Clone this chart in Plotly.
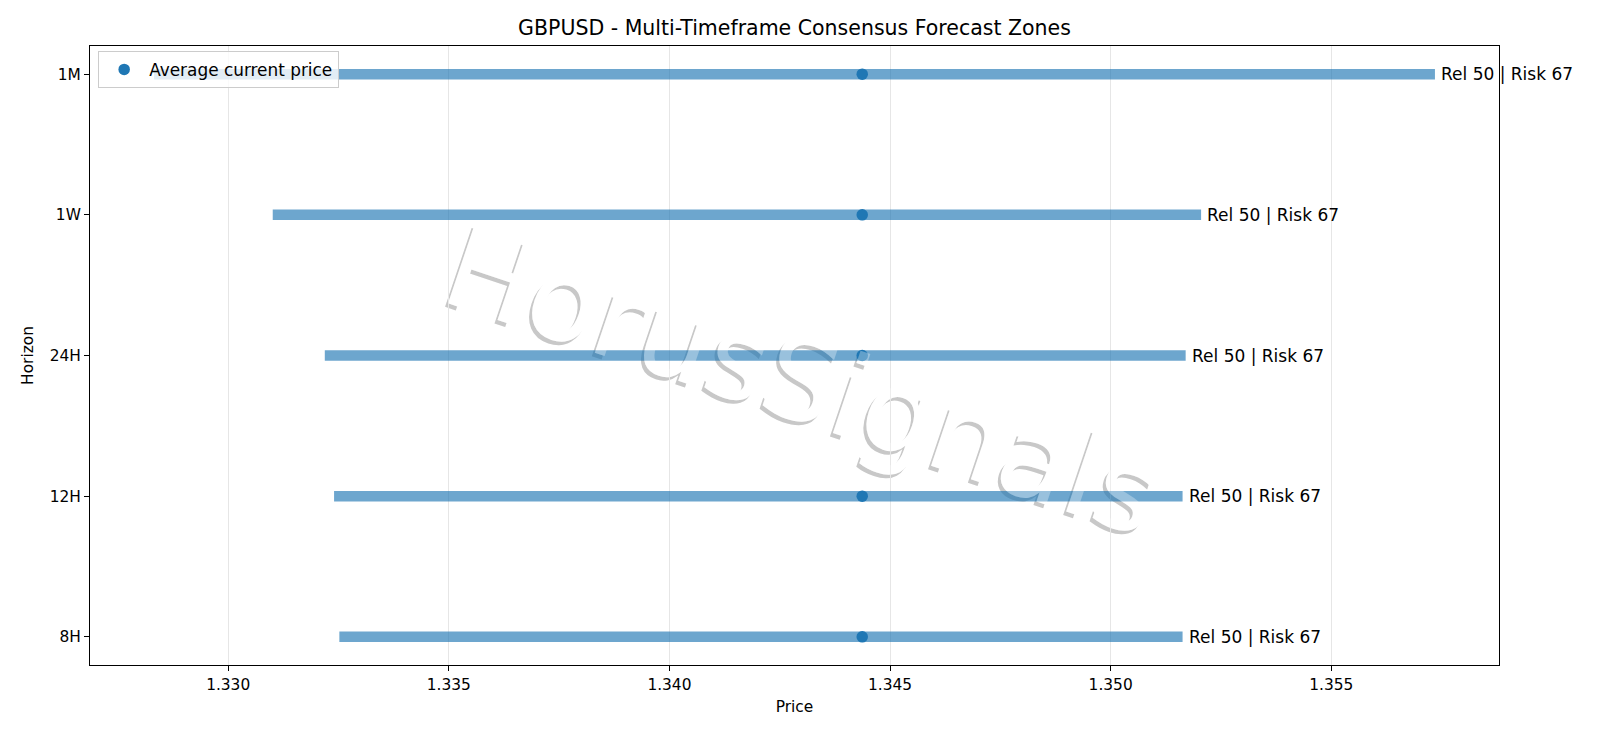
import plotly.graph_objects as go

# ---- data ----
horizons = ["8H", "12H", "24H", "1W", "1M"]
zone_low = [1.33252, 1.33240, 1.33219, 1.33101, 1.32832]
zone_high = [1.35163, 1.35163, 1.35170, 1.35205, 1.35735]
current_price = [1.34437, 1.34437, 1.34437, 1.34437, 1.34437]
reliability = [50, 50, 50, 50, 50]
risk = [67, 67, 67, 67, 67]
x_ticks = [1.330, 1.335, 1.340, 1.345, 1.350, 1.355]

title_text = "GBPUSD - Multi-Timeframe Consensus Forecast Zones"
x_title = "Price"
y_title = "Horizon"
legend_name = "Average current price"
watermark_text = "HorusSignals"

FONT = "DejaVu Sans"
BAR_COLOR = "rgba(31,119,180,0.65)"
DOT_COLOR = "#1f77b4"

# autoscale like matplotlib (5% margins)
lo = min(zone_low + current_price)
hi = max(zone_high + current_price)
pad = (hi - lo) * 0.05
x_range = [lo - pad, hi + pad]

fig = go.Figure()

# forecast zones
bx, by = [], []
for h, a, b in zip(horizons, zone_low, zone_high):
    bx += [a, b, None]
    by += [h, h, None]
fig.add_trace(go.Scatter(
    x=bx, y=by, mode="lines",
    line=dict(color=BAR_COLOR, width=10.5),
    showlegend=False, hoverinfo="skip",
))

# current price dots
fig.add_trace(go.Scatter(
    x=current_price, y=horizons, mode="markers",
    marker=dict(color=DOT_COLOR, size=11.5),
    name=legend_name, showlegend=True,
))

# right-hand labels
for h, b, r, k in zip(horizons, zone_high, reliability, risk):
    fig.add_annotation(
        x=b, y=h, xref="x", yref="y",
        text=f"Rel {r} | Risk {k}",
        showarrow=False, xanchor="left", yanchor="middle", xshift=4,
        font=dict(family=FONT, size=17, color="black"),
    )

# watermark (shadow + white fill below traces, light white veil above)
cx, cy = 0.5075, 0.4711
angle = 18.6
wm_size = 114
def wm_shape(dx, dy, color, layer):
    return dict(
        type="rect", xref="paper", yref="paper",
        x0=cx + dx - 0.001, x1=cx + dx + 0.001,
        y0=cy + dy - 0.001, y1=cy + dy + 0.001,
        line=dict(width=0), fillcolor="rgba(0,0,0,0)", layer=layer,
        label=dict(text=watermark_text, textangle=angle,
                   textposition="middle center",
                   font=dict(family=FONT, size=wm_size, color=color)),
    )
pw, ph = 1600 - 90 - 101, 738 - 46 - 73
fig.add_shape(**wm_shape(-3 / pw, -3.5 / ph, "rgb(200,200,200)", "below"))
fig.add_shape(**wm_shape(0, 0, "rgb(255,255,255)", "below"))
fig.add_shape(**wm_shape(0, 0, "rgba(255,255,255,0.3)", "above"))

fig.update_layout(
    width=1600, height=738,
    margin=dict(l=90, r=101, t=46, b=73),
    paper_bgcolor="white", plot_bgcolor="rgba(0,0,0,0)",
    font=dict(family=FONT, size=15.4, color="black"),
    title=dict(text=title_text, x=0.5, xref="paper", xanchor="center",
               y=1 - 28 / 738, yref="container", yanchor="middle",
               font=dict(family=FONT, size=20.5, color="black")),
    legend=dict(x=0.0058, y=0.992, xanchor="left", yanchor="top",
                bgcolor="rgba(255,255,255,0.8)", bordercolor="#cccccc",
                borderwidth=1, font=dict(family=FONT, size=16.9),
                itemwidth=40, tracegroupgap=0),
    showlegend=True,
)
fig.update_xaxes(
    range=x_range, tickvals=x_ticks, ticktext=[f"{v:.3f}" for v in x_ticks],
    ticks="outside", ticklen=5, tickwidth=1.1, tickcolor="black",
    showline=True, linecolor="black", linewidth=1.1, mirror=True,
    showgrid=True, gridcolor="#e6e6e6", gridwidth=1, zeroline=False,
    tickfont=dict(family=FONT, size=15.4),
    title=dict(text=x_title, standoff=8, font=dict(family=FONT, size=15.4)),
)
fig.update_yaxes(
    type="category", categoryorder="array", categoryarray=horizons,
    range=[-0.2, len(horizons) - 0.8],
    ticks="outside", ticklen=5, tickwidth=1.1, tickcolor="black",
    showline=True, linecolor="black", linewidth=1.1, mirror=True,
    showgrid=False, zeroline=False,
    tickfont=dict(family=FONT, size=15.4),
    title=dict(text=y_title, standoff=12, font=dict(family=FONT, size=15.4)),
)

fig.write_html("out.html", config={"displayModeBar": False},
               post_script="document.body.style.margin='0';")
